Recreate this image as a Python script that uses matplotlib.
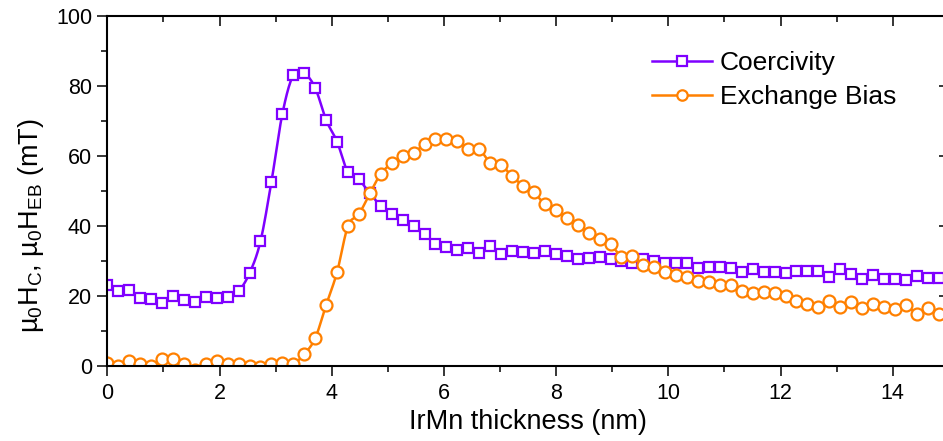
import numpy as np
import matplotlib
matplotlib.use("Agg")
import matplotlib.pyplot as plt
from matplotlib.lines import Line2D
from matplotlib.ticker import MultipleLocator

plt.rcParams['font.family'] = ['Liberation Sans', 'DejaVu Sans']
plt.rcParams['mathtext.fontset'] = 'custom'
plt.rcParams['mathtext.rm'] = 'Liberation Sans'
plt.rcParams['mathtext.it'] = 'Liberation Sans'
plt.rcParams['mathtext.default'] = 'regular'

# IrMn thickness (nm), sampled every 0.195 nm along the wedge
thickness = np.arange(77) * 0.195

coercivity = [
    23.1, 21.5, 21.7, 19.5, 19.2, 18.1, 20.1, 18.9, 18.2, 19.6,
    19.4, 19.8, 21.4, 26.5, 35.6, 52.6, 72.0, 83.1, 83.6, 79.5,
    70.3, 64.1, 55.3, 53.3, 49.3, 45.8, 43.4, 41.7, 40.1, 37.6,
    35.0, 34.1, 33.1, 33.8, 32.3, 34.2, 32.1, 32.9, 32.6, 32.4,
    32.8, 31.9, 31.4, 30.5, 30.8, 31.2, 30.5, 30.0, 29.3, 30.5,
    30.0, 29.3, 29.5, 29.3, 27.9, 28.4, 28.4, 28.1, 26.9, 27.6,
    26.9, 26.9, 26.7, 27.1, 27.2, 27.2, 25.3, 27.7, 26.3, 24.8,
    26.0, 25.0, 24.8, 24.6, 25.7, 25.2, 25.2,
]

exchange_bias = [
    0.9, 0.1, 1.5, 0.6, 0.1, 1.9, 2.0, 0.6, -1.0, 0.6,
    1.3, 0.7, 0.6, 0.1, -0.4, 0.7, 0.8, 0.6, 3.4, 7.9,
    17.4, 26.8, 40.0, 43.4, 49.3, 54.9, 57.9, 60.0, 61.0, 63.3,
    65.0, 64.9, 64.3, 62.0, 61.9, 58.1, 57.3, 54.3, 51.5, 49.6,
    46.2, 44.6, 42.3, 40.4, 38.0, 36.2, 34.8, 31.2, 31.4, 28.9,
    28.2, 26.9, 26.1, 25.4, 24.4, 23.9, 23.1, 23.1, 21.4, 21.0,
    21.2, 20.8, 20.0, 18.6, 17.7, 16.9, 18.7, 16.8, 18.4, 16.7,
    17.7, 16.9, 16.3, 17.4, 15.0, 16.5, 15.0,
]

purple = '#7F00FF'
orange = '#FF8000'


def smooth(x, y, k=12):
    # Catmull-Rom curve through the points (for the connecting line only)
    x = np.asarray(x, float)
    y = np.asarray(y, float)
    xp = np.concatenate([[2 * x[0] - x[1]], x, [2 * x[-1] - x[-2]]])
    yp = np.concatenate([[2 * y[0] - y[1]], y, [2 * y[-1] - y[-2]]])
    t = np.linspace(0, 1, k, endpoint=False)[:, None]
    xs, ys = [], []
    for i in range(1, len(xp) - 2):
        for arr, out in ((xp, xs), (yp, ys)):
            p0, p1, p2, p3 = arr[i - 1], arr[i], arr[i + 1], arr[i + 2]
            seg = 0.5 * ((2 * p1) + (-p0 + p2) * t
                         + (2 * p0 - 5 * p1 + 4 * p2 - p3) * t ** 2
                         + (-p0 + 3 * p1 - 3 * p2 + p3) * t ** 3)
            out.append(seg.ravel())
    xs.append([x[-1]])
    ys.append([y[-1]])
    return np.concatenate(xs), np.concatenate(ys)


fig = plt.figure(figsize=(9.43, 4.41), dpi=100)
ax = fig.add_axes([107.3 / 943, 75 / 441, 841.5 / 943, 350 / 441])

for yv, col, mk, ms in ((coercivity, purple, 's', 7.9), (exchange_bias, orange, 'o', 8.6)):
    sx, sy = smooth(thickness, yv)
    ax.plot(sx, sy, color=col, lw=1.8)
    ax.plot(thickness, yv, ls='none', marker=mk, ms=ms, mfc='white',
            mec=col, mew=1.6)

ax.set_xlim(0, 15)
ax.set_ylim(0, 100)
ax.xaxis.set_major_locator(MultipleLocator(2))
ax.xaxis.set_minor_locator(MultipleLocator(1))
ax.yaxis.set_major_locator(MultipleLocator(20))
ax.yaxis.set_minor_locator(MultipleLocator(10))

for s in ax.spines.values():
    s.set_linewidth(1.5)

ax.tick_params(which='both', top=True, right=True, width=1.1, labelsize=15.5)
ax.tick_params(which='major', length=7)
ax.tick_params(which='minor', length=4)
ax.tick_params(axis='x', which='both', direction='out', pad=5)
ax.tick_params(axis='y', which='both', direction='out', pad=4)
# top and right ticks point inwards
for t in ax.xaxis.get_ticklines(minor=False)[1::2] + ax.xaxis.get_ticklines(minor=True)[1::2]:
    t.set_marker(3)
for t in ax.yaxis.get_ticklines(minor=False)[1::2] + ax.yaxis.get_ticklines(minor=True)[1::2]:
    t.set_marker(0)

ax.set_xlabel('IrMn thickness (nm)', fontsize=19.5, labelpad=4)
ax.set_ylabel('µ$_0$H$_C$, µ$_0$H$_{EB}$ (mT)', fontsize=19.5)
ax.yaxis.set_label_coords(-0.073, 0.40)

handles = [
    Line2D([], [], color=purple, lw=1.8, marker='s', ms=7, mfc='white', mec=purple, mew=1.6),
    Line2D([], [], color=orange, lw=1.8, marker='o', ms=7.5, mfc='white', mec=orange, mew=1.6),
]
ax.legend(handles, ['Coercivity', 'Exchange Bias'], loc='upper left',
          bbox_to_anchor=(0.647, 0.9), frameon=False, fontsize=19,
          handlelength=2.27, handletextpad=0.3, labelspacing=0.38,
          borderpad=0, borderaxespad=0)

fig.savefig('out.png', dpi=100)
